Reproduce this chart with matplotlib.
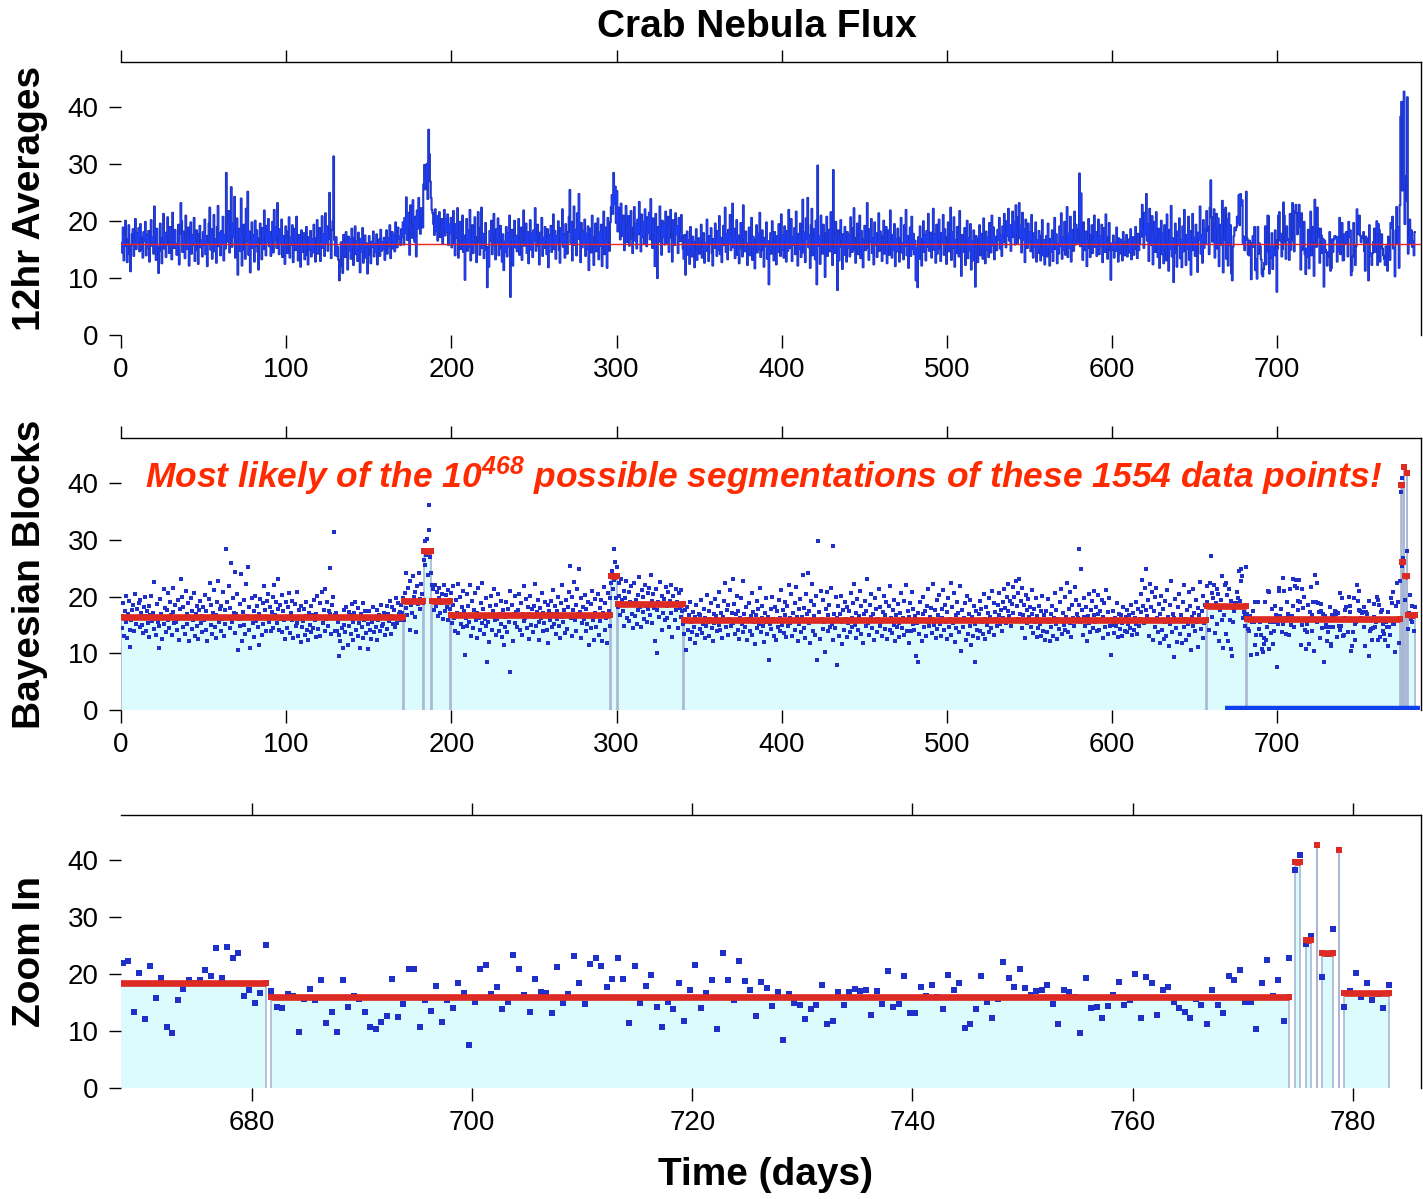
import numpy as np
import matplotlib
matplotlib.use("Agg")
import matplotlib.pyplot as plt

# 12 hr averages, one value every half day starting at day 0.25
flux_000 = [16.2, 14.5, 18.9, 13.1, 17.4, 20.1, 15.6, 12.8, 16.9, 19.3, 14.2, 11.2, 15.8, 17.7, 18.6, 13.9, 16.4, 20.4, 15.1, 17.9,
            16.3, 18.8, 14.7, 19.5, 17.2, 15.0, 13.6, 18.1, 16.6, 19.9, 14.0, 17.5, 15.4, 18.3, 12.9, 16.8, 20.2, 15.7, 17.1, 14.3,
            22.6, 16.1, 13.2, 18.7, 15.5, 10.9, 14.8, 19.6, 17.0, 12.6, 16.5, 21.3, 15.2, 18.0, 13.7, 17.6, 20.7, 15.9, 14.4, 19.0,
            16.7, 13.3, 21.5, 17.3, 15.3, 18.5, 15.6, 14.1, 16.0, 19.4, 12.4, 17.8, 23.2, 20.0, 14.6, 18.2, 16.2, 13.5, 21.0, 17.0,
            15.1, 18.9, 12.2, 16.4, 19.8, 14.3, 17.5, 15.8, 20.6, 13.0, 16.9, 18.4, 14.9, 12.5, 17.7, 19.2, 15.4, 16.6, 13.8, 18.1,
            15.9, 20.3, 14.2, 17.4, 12.1, 16.3, 19.6, 22.4, 15.0, 18.6, 13.4, 17.1, 21.1, 14.7, 16.8, 12.7, 19.0, 22.7, 15.6, 17.9,
            14.0, 18.3, 16.1, 20.8, 13.1, 17.6, 15.2, 28.5, 19.1, 16.4, 21.8, 14.5, 18.0, 26.0, 15.5, 19.7, 17.2, 24.3, 13.6, 16.9,
            20.5, 10.6, 16.0, 18.7, 14.8, 24.0, 12.2, 17.3, 19.4, 15.0, 13.4, 22.2, 16.6, 25.2, 14.1, 18.2, 11.0, 16.3, 19.8, 15.3,
            17.5, 12.9, 20.1, 15.7, 18.4, 14.6, 11.5, 17.0, 19.6, 16.2, 13.3, 18.8, 15.1, 21.9, 17.7, 14.0, 19.2, 16.4, 20.4, 15.6,
            18.1, 13.9, 17.3, 19.9, 14.5, 22.0, 16.7, 19.0, 15.3, 23.2, 17.9, 14.2, 18.6, 16.0, 20.3, 13.7, 17.4, 15.8, 12.5, 19.1]
flux_100 = [16.5, 14.4, 18.2, 20.7, 13.6, 17.1, 15.9, 19.3, 12.8, 16.3, 18.7, 14.9, 20.8, 15.4, 13.1, 17.6, 16.0, 12.0, 18.4, 14.6,
            15.7, 17.9, 13.3, 16.6, 19.0, 14.1, 12.4, 17.2, 15.0, 18.3, 13.8, 16.8, 14.5, 19.4, 15.9, 12.9, 17.0, 20.2, 14.3, 16.4,
            18.8, 13.0, 16.2, 20.9, 15.3, 17.7, 13.9, 21.4, 16.1, 19.1, 14.8, 17.4, 25.0, 16.9, 13.5, 18.5, 20.0, 31.4, 16.7, 14.0,
            17.2, 13.9, 15.5, 13.2, 9.6, 12.1, 16.3, 14.4, 10.9, 17.6, 15.0, 13.7, 18.1, 16.2, 11.5, 17.3, 14.9, 16.8, 13.4, 18.7,
            15.6, 12.3, 17.1, 19.1, 14.2, 16.5, 13.0, 18.0, 15.3, 11.0, 16.9, 14.7, 18.8, 12.7, 15.8, 17.5, 13.6, 16.1, 10.8, 15.2,
            17.4, 14.1, 12.6, 16.4, 15.5, 18.2, 13.8, 16.0, 14.6, 17.7, 12.4, 15.9, 16.8, 13.9, 18.5, 14.8, 16.3, 15.1, 17.1, 13.2,
            16.7, 18.4, 14.3, 17.0, 15.7, 19.3, 13.5, 16.6, 18.1, 15.2, 17.6, 14.7, 19.8, 16.2, 15.4, 18.9, 16.9, 17.3, 15.8, 18.6,
            17.2, 19.8, 15.9, 20.6, 18.0, 24.2, 16.7, 21.5, 19.3, 14.1, 22.8, 18.5, 17.1, 23.7, 19.9, 16.4, 20.8, 13.8, 21.9, 18.7,
            24.1, 19.6, 17.8, 22.3, 20.5, 18.9, 26.5, 29.9, 25.6, 27.3, 30.1, 23.9, 36.1, 31.8, 27.0, 24.1, 22.0, 21.4, 19.5, 17.6,
            22.1, 18.3, 20.9, 16.6, 19.7, 21.6, 17.2, 18.8, 20.4, 16.1, 19.0, 22.0, 17.5, 20.3, 18.2, 21.2, 15.8, 19.4, 17.9, 20.6]
flux_200 = [15.4, 18.6, 21.8, 16.2, 14.0, 19.5, 17.1, 22.3, 13.6, 16.9, 19.9, 15.1, 18.1, 21.0, 14.6, 17.5, 9.7, 16.2, 20.4, 14.8,
            18.4, 15.6, 22.0, 13.1, 16.8, 19.3, 14.4, 17.6, 20.7, 15.9, 12.8, 17.2, 21.6, 16.3, 14.1, 18.9, 22.4, 15.3, 17.8, 13.5,
            16.0, 19.7, 14.9, 8.4, 15.5, 12.0, 18.3, 16.6, 20.1, 14.2, 17.4, 21.3, 15.8, 13.3, 18.6, 16.1, 20.5, 14.0, 17.0, 19.2,
            15.2, 12.9, 17.7, 11.4, 16.4, 14.6, 19.0, 13.8, 17.9, 15.6, 21.0, 6.7, 16.8, 18.5, 12.2, 16.9, 20.1, 15.4, 17.3, 14.7,
            17.6, 20.4, 14.1, 16.7, 18.9, 13.2, 17.0, 21.9, 15.7, 16.3, 19.6, 14.4, 18.1, 12.6, 16.9, 20.2, 15.0, 17.8, 13.7, 18.4,
            16.5, 22.3, 14.8, 17.3, 19.4, 15.6, 12.4, 18.0, 16.2, 20.6, 13.9, 17.1, 15.3, 19.0, 16.7, 14.2, 18.6, 11.9, 17.5, 15.8,
            19.2, 14.6, 16.9, 21.2, 15.1, 18.3, 13.4, 17.4, 16.0, 20.0, 14.9, 12.7, 18.8, 16.4, 22.1, 15.5, 17.7, 13.6, 19.5, 16.6,
            14.3, 18.1, 20.8, 25.5, 16.2, 19.9, 13.1, 17.6, 22.6, 15.8, 18.5, 14.0, 21.4, 16.9, 24.8, 17.3, 12.8, 19.7, 15.4, 18.2,
            16.1, 20.3, 13.9, 17.8, 15.2, 19.1, 11.4, 16.6, 18.7, 14.5, 21.0, 15.9, 12.3, 17.2, 19.6, 14.7, 16.8, 20.5, 13.3, 18.0,
            15.7, 19.4, 12.1, 17.1, 21.7, 14.2, 18.9, 16.3, 11.8, 20.6, 17.5, 14.8, 19.8, 22.5, 24.6, 21.3, 28.5, 23.0, 26.1, 19.7]
flux_300 = [25.3, 18.2, 22.4, 20.1, 16.8, 23.1, 19.5, 17.4, 21.0, 14.9, 19.8, 22.7, 16.3, 18.6, 20.9, 15.7, 19.1, 21.8, 17.0, 14.4,
            18.9, 22.5, 16.6, 19.4, 15.2, 20.3, 17.7, 23.4, 18.1, 14.7, 21.2, 17.3, 19.9, 16.0, 22.1, 18.4, 15.6, 20.7, 17.9, 21.5,
            16.8, 23.9, 19.2, 15.3, 20.5, 18.0, 12.1, 21.3, 17.6, 10.0, 19.0, 16.4, 22.6, 18.7, 14.1, 20.1, 17.2, 19.6, 15.9, 21.7,
            18.3, 16.2, 20.8, 14.6, 19.3, 22.0, 17.1, 12.9, 20.2, 18.5, 15.8, 21.4, 17.7, 19.1, 14.4, 20.6, 18.0, 16.5, 21.1, 17.4,
            15.2, 13.4, 17.6, 10.6, 15.9, 18.2, 14.1, 16.7, 12.5, 19.0, 15.5, 13.8, 17.3, 14.6, 11.9, 16.4, 18.6, 13.2, 15.7, 17.0,
            14.3, 16.8, 19.4, 13.6, 15.1, 17.9, 12.7, 16.2, 14.8, 20.3, 15.6, 13.0, 17.4, 16.1, 18.8, 14.4, 12.2, 16.9, 15.3, 19.6,
            16.6, 13.9, 18.3, 15.0, 20.9, 14.2, 17.1, 12.8, 16.4, 19.2, 15.8, 22.4, 14.6, 17.7, 13.3, 18.5, 16.0, 21.1, 14.9, 17.2,
            23.1, 15.4, 18.7, 13.5, 16.9, 20.2, 14.1, 17.5, 12.6, 16.3, 19.7, 15.2, 13.8, 22.8, 17.0, 14.7, 18.2, 16.1, 12.3, 15.9,
            18.9, 14.0, 16.6, 20.6, 13.2, 17.3, 15.5, 11.7, 16.8, 19.3, 14.5, 17.8, 15.1, 21.5, 13.7, 16.2, 18.4, 14.9, 12.0, 17.1,
            15.6, 19.8, 13.4, 16.5, 8.9, 15.2, 17.9, 14.3, 20.0, 16.0, 13.1, 18.1, 15.8, 12.4, 17.4, 14.6, 19.5, 16.3, 13.9, 21.2]
flux_400 = [15.0, 17.6, 13.6, 19.1, 16.7, 12.9, 18.3, 14.8, 22.0, 16.2, 15.3, 20.4, 13.0, 17.2, 15.9, 18.8, 14.2, 21.7, 16.5, 12.2,
            17.8, 15.1, 19.6, 13.7, 16.4, 23.8, 14.5, 18.0, 12.8, 20.5, 16.9, 24.1, 15.4, 17.5, 11.8, 19.3, 22.2, 14.0, 16.6, 18.6,
            13.3, 20.1, 8.9, 29.8, 15.7, 17.3, 12.5, 21.0, 16.1, 14.3, 19.4, 15.6, 10.2, 17.9, 20.8, 13.9, 16.8, 18.5, 14.7, 21.6,
            15.2, 12.3, 29.0, 17.0, 14.4, 19.9, 16.3, 7.9, 18.4, 13.1, 16.9, 20.2, 15.5, 11.6, 17.7, 14.1, 19.0, 16.0, 12.9, 18.1,
            15.4, 17.5, 13.8, 20.7, 16.2, 14.6, 18.8, 22.3, 15.0, 12.7, 17.1, 19.6, 14.2, 16.6, 21.0, 13.5, 18.3, 15.7, 11.9, 16.9,
            19.2, 14.9, 17.4, 23.2, 15.3, 13.2, 18.6, 16.4, 20.4, 14.4, 17.0, 12.4, 19.8, 15.8, 17.9, 13.7, 16.1, 21.4, 14.8, 18.2,
            15.6, 13.0, 17.3, 20.1, 14.3, 16.7, 19.0, 12.6, 15.9, 18.4, 14.1, 21.9, 16.3, 13.6, 17.6, 15.0, 19.5, 12.1, 16.8, 14.7,
            18.7, 15.4, 12.9, 17.1, 20.6, 14.5, 16.2, 13.3, 19.3, 15.7, 22.0, 14.0, 17.4, 11.8, 16.5, 18.9, 13.9, 20.8, 15.1, 17.8,
            14.2, 16.6, 9.6, 15.3, 8.4, 17.2, 13.4, 19.1, 15.8, 12.2, 16.9, 20.0, 14.6, 17.5, 13.1, 18.3, 15.5, 21.3, 14.8, 16.4,
            18.0, 13.6, 16.1, 22.2, 15.0, 17.7, 12.7, 19.4, 14.3, 16.8, 20.3, 15.2, 13.0, 17.9, 16.3, 21.1, 14.1, 18.6, 15.6, 12.5]
flux_500 = [17.3, 19.8, 14.7, 16.0, 22.4, 13.2, 18.1, 15.4, 20.7, 12.0, 16.7, 14.4, 19.0, 17.2, 13.8, 21.8, 15.9, 10.4, 17.6, 14.6,
            16.2, 18.8, 12.3, 15.7, 20.1, 13.5, 17.0, 14.9, 19.5, 11.5, 16.5, 13.1, 18.4, 15.1, 8.5, 17.4, 14.2, 12.8, 16.9, 19.3,
            14.0, 17.8, 15.5, 13.4, 20.5, 16.1, 12.6, 18.2, 15.0, 17.1, 13.7, 19.7, 16.4, 14.5, 21.0, 15.8, 18.9, 13.3, 17.3, 16.0,
            14.9, 18.5, 16.7, 20.6, 15.2, 17.6, 13.9, 19.1, 16.3, 21.3, 18.0, 15.4, 20.0, 17.4, 22.2, 16.6, 19.3, 14.8, 18.7, 21.7,
            17.2, 19.9, 15.9, 22.8, 18.4, 16.1, 20.7, 23.2, 17.0, 19.2, 14.5, 21.5, 16.8, 18.6, 12.8, 20.3, 17.7, 15.3, 19.6, 16.4,
            18.1, 14.7, 21.1, 16.9, 13.6, 17.9, 15.6, 19.8, 12.9, 16.6, 14.4, 18.3, 15.2, 13.1, 17.5, 20.2, 14.0, 16.7, 12.4, 15.8,
            17.4, 13.8, 19.6, 15.5, 12.2, 16.9, 14.6, 18.4, 13.0, 16.2, 20.6, 15.1, 17.7, 12.6, 16.0, 14.3, 19.1, 15.7, 21.4, 13.4,
            17.1, 15.0, 19.9, 14.1, 16.5, 22.5, 13.7, 17.8, 15.3, 20.8, 12.9, 18.5, 16.3, 14.8, 21.7, 15.9, 19.4, 17.0, 16.2, 18.6,
            28.4, 15.6, 24.9, 17.7, 13.2, 19.8, 16.4, 14.9, 18.2, 12.1, 16.6, 20.4, 15.3, 13.7, 17.6, 19.3, 14.4, 16.8, 21.0, 15.5,
            18.1, 13.9, 16.9, 20.3, 14.2, 17.4, 15.7, 19.4, 12.8, 16.5, 18.8, 14.6, 21.2, 15.8, 13.4, 17.3, 19.7, 14.9, 9.7, 16.1]
flux_600 = [15.0, 17.5, 13.6, 16.2, 14.8, 18.9, 15.6, 12.9, 17.0, 14.3, 16.7, 15.4, 13.1, 18.1, 15.9, 14.0, 16.4, 17.6, 13.8, 15.2,
            16.8, 14.5, 18.6, 13.3, 15.7, 17.2, 14.1, 16.3, 19.0, 15.1, 13.5, 17.8, 14.9, 16.0, 20.4, 17.3, 22.9, 18.4, 15.3, 21.5,
            17.7, 24.8, 16.6, 19.5, 13.0, 22.2, 18.1, 15.8, 20.9, 12.4, 17.4, 19.9, 14.6, 21.6, 16.2, 13.7, 18.7, 11.8, 16.9, 20.1,
            14.2, 17.9, 12.6, 19.3, 15.5, 13.1, 21.2, 16.4, 11.3, 18.5, 15.1, 22.7, 13.8, 17.0, 9.3, 16.3, 19.6, 14.4, 12.0, 18.2,
            15.8, 20.5, 13.5, 16.7, 11.9, 19.1, 14.7, 22.0, 16.1, 12.3, 17.6, 15.2, 20.8, 13.2, 18.3, 10.6, 16.5, 21.3, 14.9, 17.1,
            13.9, 19.4, 15.6, 11.1, 18.0, 16.8, 22.6, 14.3, 17.5, 12.7, 20.2, 15.3, 18.6, 16.0, 21.8, 19.1, 18.3, 14.2, 22.4, 27.2,
            20.7, 16.4, 19.8, 22.1, 13.6, 18.9, 21.3, 15.2, 20.5, 12.1, 17.7, 19.4, 15.9, 23.6, 11.0, 16.8]
# zoomed stretch, day 668.25 to 783.25
flux_zoom = [22.0, 22.4, 13.4, 20.3, 12.2, 21.4, 15.9, 19.3, 10.8, 9.6, 15.5, 17.4, 18.9, 18.4, 18.9, 20.8, 19.7, 24.6, 19.3, 24.8,
             22.8, 23.7, 16.2, 17.3, 14.9, 16.7, 25.2, 17.0, 14.3, 14.0, 16.6, 16.2, 9.8, 15.6, 17.4, 15.5, 19.0, 11.4, 13.3, 9.9,
             19.0, 14.3, 16.1, 15.6, 13.3, 10.7, 10.3, 11.6, 12.7, 19.1, 12.4, 14.7, 21.0, 20.9, 10.8, 15.5, 13.6, 17.9, 11.6, 15.5,
             14.0, 18.4, 16.7, 7.6, 15.2, 21.0, 21.6, 16.6, 17.8, 13.8, 15.1, 23.3, 21.0, 16.3, 13.4, 19.1, 16.9, 16.7, 13.2, 21.3,
             15.0, 16.6, 23.2, 18.4, 14.7, 21.8, 22.9, 21.5, 17.7, 19.2, 22.9, 19.1, 11.5, 21.4, 15.0, 18.0, 19.9, 14.2, 10.7, 15.2,
             13.8, 18.5, 11.7, 17.3, 21.7, 14.0, 16.7, 19.0, 10.4, 23.8, 19.0, 15.5, 22.4, 18.8, 17.3, 12.7, 18.7, 17.5, 14.4, 16.9,
             8.5, 16.6, 15.0, 14.6, 12.2, 13.8, 14.6, 18.1, 11.3, 11.7, 16.8, 14.6, 16.8, 17.4, 17.0, 17.3, 12.9, 17.1, 14.8, 20.6,
             14.2, 14.8, 19.7, 13.1, 13.2, 17.7, 16.2, 18.1, 16.0, 13.8, 19.9, 17.3, 18.4, 10.5, 11.3, 13.8, 19.7, 15.2, 12.3, 15.6,
             22.1, 19.3, 17.7, 21.0, 17.5, 16.3, 17.1, 17.3, 18.1, 14.7, 11.3, 17.3, 16.9, 16.0, 9.6, 19.3, 14.0, 14.3, 12.3, 14.4,
             16.4, 18.7, 14.6, 15.5, 20.0, 12.3, 19.5, 18.5, 12.9, 17.3, 17.7, 15.2, 14.0, 13.4, 12.3, 15.6, 14.6, 11.3, 17.3, 14.6,
             13.2, 19.7, 18.9, 20.8, 15.2, 15.2, 10.3, 18.4, 22.5, 16.1, 19.0, 11.8, 22.8, 38.4, 41.0, 25.4, 26.8, 42.8, 19.5, 23.6,
             28.0, 41.8, 14.3, 17.1, 20.3, 16.0, 18.4, 15.5, 16.5, 14.0, 18.1]

# Bayesian blocks: first and last sample time (days) and block level
block_first = [0.25, 171.25, 183.25, 188.25, 199.75, 296.75, 300.75, 340.75, 657.25, 681.75,
               774.75, 775.75, 776.75, 777.25, 778.75, 779.25]
block_last = [170.75, 182.75, 187.75, 199.25, 296.25, 300.25, 340.25, 656.75, 681.25, 774.25,
              775.25, 776.25, 776.75, 778.25, 778.75, 783.25]
block_level = [16.4, 19.2, 28.0, 19.3, 16.8, 23.6, 18.7, 15.8, 18.4, 16.0,
               39.7, 26.1, 42.8, 23.7, 41.8, 16.7]

mean_level = 16.0
full_range = (0, 787)
zoom_range = (668.1, 786.2)

plt.rcParams['font.family'] = ['Liberation Sans', 'DejaVu Sans']
plt.rcParams['mathtext.fontset'] = 'custom'
plt.rcParams['mathtext.rm'] = 'Liberation Sans:italic:bold'
plt.rcParams['mathtext.it'] = 'Liberation Sans:italic:bold'

flux = np.concatenate([flux_000, flux_100, flux_200, flux_300, flux_400, flux_500, flux_600, flux_zoom])
t = 0.25 + 0.5 * np.arange(len(flux))

BLUE_LINE = '#1e3cf0'
NAVY = '#1f2a8c'
DOT = '#1f30c8'
RED = '#dd2a22'
FILL = '#dcfbfc'
VLINE = '#a9b6d4'


def style(ax, xlim, xticks, ylabel):
    ax.set_xlim(*xlim)
    ax.set_ylim(0, 48)
    ax.set_xticks(xticks)
    ax.set_yticks([0, 10, 20, 30, 40])
    ax.spines['left'].set_visible(False)
    ax.spines['bottom'].set_visible(False)
    ax.spines['top'].set_linewidth(1.0)
    ax.spines['right'].set_linewidth(1.0)
    ax.tick_params(axis='both', direction='out', length=9, width=1, labelsize=20, pad=7)
    ax.tick_params(axis='x', top=True, labeltop=False)
    ax.set_ylabel(ylabel, fontsize=28, fontweight='bold', labelpad=14)


def draw_blocks(ax, ms):
    for a, b, lv in zip(block_first, block_last, block_level):
        ax.fill_between([a, b], 0, lv, color=FILL, lw=0, zorder=1)
        ax.vlines([a, b], 0, lv, color=VLINE, lw=1.2, zorder=2)
    ax.plot(t, flux, 's', color=DOT, ms=ms, mew=0, zorder=3)
    for a, b, lv in zip(block_first, block_last, block_level):
        ax.plot([a, b], [lv, lv], color=RED, lw=4.8, solid_capstyle='butt',
                marker='s', ms=4.8, mew=0, zorder=4)


fig = plt.figure(figsize=(14.23, 11.99), dpi=100)
left, width = 121 / 1423, 1300 / 1423

ax1 = fig.add_axes([left, 0.7206, width, 0.2277])
ax1.plot(t, flux, drawstyle='steps-mid', color=NAVY, lw=1.4, zorder=2)
ax1.plot(t, flux, drawstyle='steps-mid', color=BLUE_LINE, lw=0.8, zorder=2)
ax1.axhline(mean_level, color='#e8262a', lw=1, zorder=3)
style(ax1, full_range, range(0, 701, 100), '12hr Averages')

ax2 = fig.add_axes([left, 0.4078, width, 0.2269])
draw_blocks(ax2, 3.5)
ax2.plot(zoom_range, [0.4, 0.4], color='#1040ee', lw=3.2, solid_capstyle='butt', zorder=5)
style(ax2, full_range, range(0, 701, 100), 'Bayesian Blocks')

ax3 = fig.add_axes([left, 0.0926, width, 0.2277])
draw_blocks(ax3, 3.9)
style(ax3, zoom_range, range(680, 781, 20), 'Zoom In')

fig.text(0.5316, 0.9694, 'Crab Nebula Flux', fontsize=28, fontweight='bold',
         ha='center', va='baseline')
fig.text(0.5376, 0.0117, 'Time (days)', fontsize=28, fontweight='bold',
         ha='center', va='baseline')
fig.text(145 / 1423, 1 - 488 / 1199,
         r'Most likely of the 10$^{468}$ possible segmentations of these 1554 data points!',
         fontsize=25.5, fontweight='bold', style='italic', color='#ff2a00',
         ha='left', va='baseline')

fig.savefig('out.png', dpi=100)
